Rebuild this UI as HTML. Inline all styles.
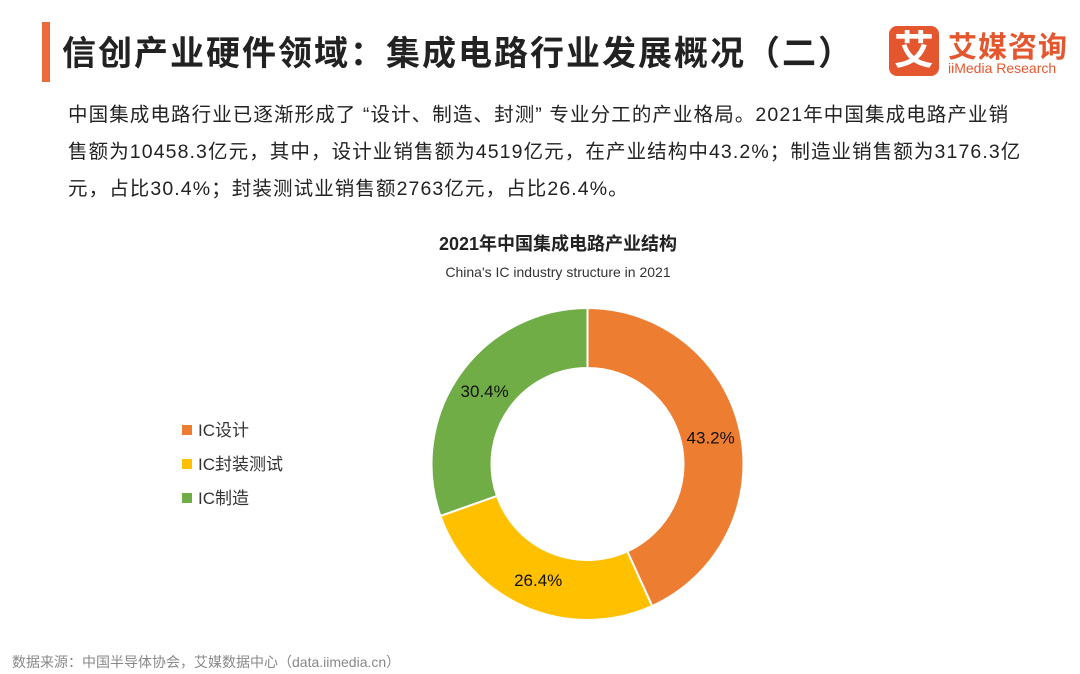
<!DOCTYPE html>
<html><head><meta charset="utf-8"><style>
body{margin:0;width:1080px;height:674px;background:#fff;font-family:"Liberation Sans","Noto Sans CJK SC",sans-serif;position:relative;overflow:hidden}
.abs{position:absolute}
</style></head><body>
<div class="abs" style="left:42px;top:22px;width:8px;height:60px;background:#ec6a3c"></div>
<div class="abs" style="left:62px;top:26px;font-size:34px;font-weight:bold;color:#222;letter-spacing:2px;white-space:nowrap">信创产业硬件领域：集成电路行业发展概况（二）</div>
<div class="abs" style="left:889px;top:26px;width:50px;height:50px;background:#e4572e;border-radius:8px;color:#fff;font-size:40px;font-weight:bold;text-align:center;line-height:50px">艾</div>
<div class="abs" style="left:948px;top:24px;font-size:29px;color:#e4572e;font-weight:bold;letter-spacing:1px">艾媒咨询</div>
<div class="abs" style="left:948px;top:60px;font-size:14px;color:#e4572e">iiMedia Research</div>
<div class="abs" style="left:68px;top:97px;width:1010px;font-size:19.5px;letter-spacing:1.1px;line-height:37px;color:#222;white-space:nowrap">中国集成电路行业已逐渐形成了 “设计、制造、封测” 专业分工的产业格局。2021年中国集成电路产业销<br>售额为10458.3亿元，其中，设计业销售额为4519亿元，在产业结构中43.2%；制造业销售额为3176.3亿<br>元，占比30.4%；封装测试业销售额2763亿元，占比26.4%。</div>
<div class="abs" style="left:0;width:1116px;top:230px;text-align:center;font-size:18px;font-weight:bold;color:#222">2021年中国集成电路产业结构</div>
<div class="abs" style="left:0;width:1116px;top:264px;text-align:center;font-size:14px;color:#333">China's IC industry structure in 2021</div>
<svg class="abs" style="left:0;top:0" width="1080" height="674" id="chart"></svg>
<div class="abs" style="left:12px;top:652px;font-size:14px;color:#888">数据来源：中国半导体协会，艾媒数据中心（data.iimedia.cn）</div>
<script>
const categories=["IC设计","IC封装测试","IC制造"];
const values=[43.2,26.4,30.4];
const labels=["43.2%","26.4%","30.4%"];
const colors=["#ed7d31","#ffc000","#70ad47"];
const svg=document.getElementById('chart');const NS="http://www.w3.org/2000/svg";
const cx=587.5,cy=464,R=156,r=96;
const total=values.reduce((a,b)=>a+b,0);
let a=0;
function pt(rad,ang){return [cx+rad*Math.sin(ang),cy-rad*Math.cos(ang)];}
values.forEach((v,i)=>{
 const a0=a,a1=a+v/total*2*Math.PI;a=a1;
 const large=(a1-a0)>Math.PI?1:0;
 const [x0,y0]=pt(R,a0),[x1,y1]=pt(R,a1),[x2,y2]=pt(r,a1),[x3,y3]=pt(r,a0);
 const p=document.createElementNS(NS,'path');
 p.setAttribute('d',`M${x0},${y0}A${R},${R} 0 ${large} 1 ${x1},${y1}L${x2},${y2}A${r},${r} 0 ${large} 0 ${x3},${y3}Z`);
 p.setAttribute('fill',colors[i]);p.setAttribute('stroke','#fff');p.setAttribute('stroke-width','2');
 
 
 svg.appendChild(p);
 const [tx,ty]=pt(126,(a0+a1)/2);
 const t=document.createElementNS(NS,'text');
 t.setAttribute('x',tx);t.setAttribute('y',ty+6);t.setAttribute('text-anchor','middle');
 t.setAttribute('font-size','17');t.setAttribute('fill','#111');t.setAttribute('font-family','Liberation Sans, sans-serif');
 t.textContent=labels[i];
 
 
 svg.appendChild(t);
 const ly=430+i*34;
 const s=document.createElementNS(NS,'rect');
 s.setAttribute('x',182);s.setAttribute('y',ly-5);s.setAttribute('width',10);s.setAttribute('height',10);s.setAttribute('fill',colors[i]);
 
 
 svg.appendChild(s);
 const lt=document.createElementNS(NS,'text');
 lt.setAttribute('x',198);lt.setAttribute('y',ly+6);lt.setAttribute('font-size','17');lt.setAttribute('fill','#333');
 lt.setAttribute('font-family','Liberation Sans, Noto Sans CJK SC, sans-serif');
 lt.textContent=categories[i];
 
 
 svg.appendChild(lt);
});
</script>
</body></html>
